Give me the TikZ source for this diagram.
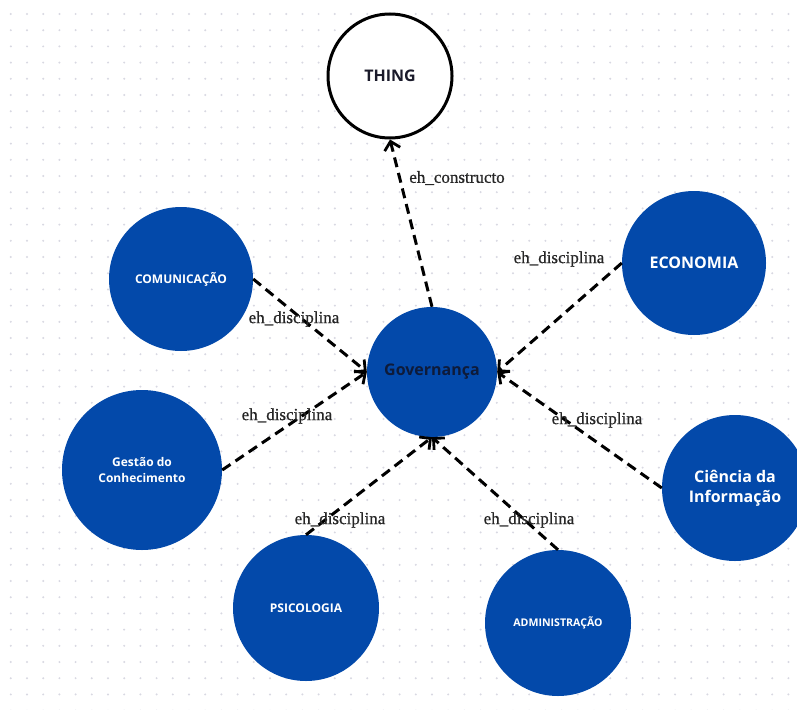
\documentclass[tikz,border=0pt]{standalone}
\usepackage{fontspec}
\setmainfont{Open Sans}
\newfontfamily\lblfont[FakeBold=0.7]{Liberation Serif}
\usetikzlibrary{arrows.meta}
\definecolor{nodeblue}{HTML}{0349AA}
\definecolor{govtext}{HTML}{0E1B3A}
\definecolor{thingtext}{HTML}{1A1A2A}
\definecolor{dotc}{HTML}{D8D8E2}
\definecolor{lbltext}{HTML}{262626}
\tikzset{
  bluec/.style={circle, fill=nodeblue, draw=none, inner sep=0pt, align=center, text=white, font=\bfseries},
  thingc/.style={circle, fill=white, draw=black, line width=3pt, inner sep=0pt, text=thingtext, font=\bfseries\fontsize{16}{19}\selectfont, minimum size=124pt},
  rel/.style={draw=black, line width=3pt, dash pattern=on 10pt off 6pt, -{Straight Barb[length=8pt,width=16pt,line width=2.8pt]}},
  lbl/.style={font=\lblfont\fontsize{17}{20}\selectfont, text=lbltext, inner sep=0pt}
}
\begin{document}
\begin{tikzpicture}[x=1pt,y=-1pt]
\useasboundingbox (0,0) rectangle (797,709);
\fill[white] (0,0) rectangle (797,709);
\foreach \i in {0,...,48}{
  \foreach \j in {0,...,43}{
    \fill[dotc] (10.8+16.2*\i, 14+16.2*\j) circle (1.1pt);
  }
}
% nodes
\node[thingc] (thing) at (390,76) {THING};
\node[bluec, minimum size=130pt, text=govtext, font=\bfseries\fontsize{16}{19}\selectfont] (gov) at (432,372) {Governança};
\node[bluec, minimum size=144pt, font=\bfseries\fontsize{12}{14}\selectfont] (com) at (181,279) {COMUNICAÇÃO};
\node[bluec, minimum size=144pt, font=\bfseries\fontsize{16}{19}\selectfont] (eco) at (694,263) {ECONOMIA};
\node[bluec, minimum size=160pt, font=\bfseries\fontsize{12}{16}\selectfont] (ges) at (142,470) {Gestão do\\Conhecimento};
\node[bluec, minimum size=146pt, font=\bfseries\fontsize{16}{20}\selectfont] (cie) at (735,488) {Ciência da\\Informação};
\node[bluec, minimum size=146pt, font=\bfseries\fontsize{12}{14}\selectfont] (psi) at (306,608) {PSICOLOGIA};
\node[bluec, minimum size=146pt, font=\bfseries\fontsize{10.6}{12}\selectfont] (adm) at (558,623) {ADMINISTRAÇÃO};
% connectors
\draw[rel] (gov.north) -- (thing.south);
\draw[rel] (com.east) -- (gov.west);
\draw[rel] (ges.east) -- (gov.west);
\draw[rel] (eco.west) -- (gov.east);
\draw[rel] (cie.west) -- (gov.east);
\draw[rel] (psi.north) -- (gov.south);
\draw[rel] (adm.north) -- (gov.south);
% labels
\node[lbl] (l1) at (457,178) {eh\_constructo};
\node[lbl] (l2) at (294,319) {eh\_disciplina};
\node[lbl] (l3) at (287,416) {eh\_disciplina};
\node[lbl] (l4) at (559,259) {eh\_disciplina};
\node[lbl] (l5) at (597,420) {eh\_disciplina};
\node[lbl] (l6) at (340,520) {eh\_disciplina};
\node[lbl] (l7) at (529,520) {eh\_disciplina};
\end{tikzpicture}
\end{document}
